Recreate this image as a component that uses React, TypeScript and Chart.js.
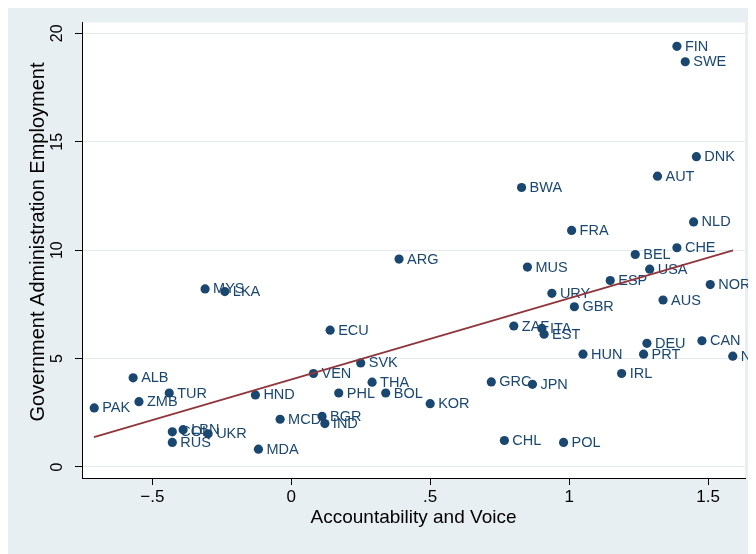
import React, { useEffect, useRef } from "react";
import { Chart, registerables } from "chart.js";

Chart.register(...registerables);

// ---- data ----
const codes = [
  "FIN", "SWE", "DNK", "AUT", "BWA", "NLD", "FRA", "CHE", "BEL", "ARG",
  "MUS", "USA", "ESP", "NOR", "MYS", "LKA", "URY", "AUS", "GBR", "ZAF",
  "ITA", "EST", "ECU", "DEU", "CAN", "HUN", "PRT", "NZL", "IRL", "GRC",
  "JPN", "CHL", "POL", "ALB", "TUR", "ZMB", "PAK", "HND", "MCD", "COL",
  "LBN", "UKR", "RUS", "MDA", "SVK", "VEN", "THA", "PHL", "BOL", "KOR",
  "BGR", "IND",
];
const voice = [
  1.388, 1.418, 1.458, 1.318, 0.829, 1.448, 1.009, 1.388, 1.238, 0.388,
  0.85, 1.29, 1.148, 1.508, -0.31, -0.239, 0.938, 1.338, 1.019, 0.801,
  0.902, 0.91, 0.14, 1.28, 1.478, 1.05, 1.268, 1.589, 1.189, 0.72,
  0.868, 0.767, 0.98, -0.569, -0.439, -0.548, -0.709, -0.129, -0.04, -0.428,
  -0.389, -0.299, -0.428, -0.118, 0.25, 0.08, 0.291, 0.171, 0.34, 0.5,
  0.111, 0.121,
];
const employment = [
  19.4, 18.69, 14.31, 13.41, 12.89, 11.3, 10.91, 10.11, 9.8, 9.59,
  9.22, 9.12, 8.6, 8.41, 8.21, 8.09, 8.01, 7.7, 7.39, 6.5,
  6.39, 6.12, 6.31, 5.7, 5.82, 5.2, 5.2, 5.11, 4.31, 3.92,
  3.81, 1.22, 1.13, 4.11, 3.41, 3.01, 2.72, 3.32, 2.2, 1.62,
  1.72, 1.53, 1.13, 0.82, 4.8, 4.31, 3.91, 3.41, 3.41, 2.92,
  2.33, 2.0,
];
const fitX = [-0.71, 1.59];
const fitY = [1.38, 9.99];
const xTicks = [-0.5, 0, 0.5, 1, 1.5];
const yTicks = [0, 5, 10, 15, 20];
const xTitle = "Accountability and Voice";
const yTitle = "Government Administration Employment";

const NAVY = "#1a476f";
const MAROON = "#90353b";
const BG = "#e8eff2";
const GRID = "#e2ebee";
const FONT = "'Liberation Sans', Arial, sans-serif";

function stataNum(v: number): string {
  const a = Math.abs(v);
  let s = String(a);
  if (s.startsWith("0.")) s = s.slice(1);
  return (v < 0 ? "\u2212" : "") + s;
}

export default function App() {
  const ref = useRef<HTMLCanvasElement | null>(null);

  useEffect(() => {
    const canvas = ref.current;
    if (!canvas) return;

    const bgPlugin = {
      id: "bgPlugin",
      beforeDraw(chart: any) {
        const { ctx, chartArea } = chart;
        ctx.save();
        ctx.fillStyle = BG;
        ctx.fillRect(0, 0, chart.width, chart.height);
        ctx.fillStyle = "#ffffff";
        ctx.fillRect(chartArea.left, chartArea.top, chartArea.right - chartArea.left, chartArea.bottom - chartArea.top);
        ctx.restore();
      },
      afterDraw(chart: any) {
        const { ctx } = chart;
        const ys = chart.scales.y;
        ctx.save();
        ctx.fillStyle = "#000";
        ctx.textAlign = "center";
        ctx.textBaseline = "middle";
        ctx.font = `16px ${FONT}`;
        for (const t of ys.ticks) {
          const py = ys.getPixelForValue(t.value);
          ctx.save();
          ctx.translate(50, py);
          ctx.rotate(-Math.PI / 2);
          ctx.fillText(stataNum(t.value), 0, 0);
          ctx.restore();
        }
        // y axis title
        ctx.font = `20px ${FONT}`;
        ctx.save();
        ctx.translate(30, 234);
        ctx.rotate(-Math.PI / 2);
        ctx.fillText(yTitle, 0, 0);
        ctx.restore();
        ctx.restore();
      },
    };

    const labelPlugin = {
      id: "labelPlugin",
      beforeDatasetsDraw(chart: any) {
        const { ctx } = chart;
        const meta = chart.getDatasetMeta(1);
        ctx.save();
        ctx.fillStyle = NAVY;
        ctx.font = `14.5px ${FONT}`;
        ctx.textAlign = "left";
        ctx.textBaseline = "middle";
        meta.data.forEach((pt: any, i: number) => {
          ctx.fillText(codes[i], pt.x + 8, pt.y + 0.5);
        });
        ctx.restore();
      },
    };

    const chart = new Chart(canvas, {
      type: "scatter",
      data: {
        datasets: [
          {
            type: "line",
            data: fitX.map((x, i) => ({ x, y: fitY[i] })),
            borderColor: MAROON,
            borderWidth: 1.8,
            pointRadius: 0,
            fill: false,
          } as any,
          {
            data: voice.map((x, i) => ({ x, y: employment[i] })),
            backgroundColor: NAVY,
            borderColor: NAVY,
            borderWidth: 0,
            pointRadius: 4.6,
          },
        ],
      },
      options: {
        responsive: false,
        animation: false,
        devicePixelRatio: 1,
        layout: { padding: { left: 0, right: 11, top: 14.5, bottom: 0 } },
        plugins: {
          legend: { display: false },
          tooltip: { enabled: false },
        },
        scales: {
          x: {
            type: "linear",
            min: -0.753,
            max: 1.633,
            afterBuildTicks(scale: any) {
              scale.ticks = xTicks.map((v) => ({ value: v }));
            },
            afterFit(scale: any) {
              scale.height = 76;
            },
            ticks: {
              autoSkip: false,
              maxRotation: 0,
              minRotation: 0,
              padding: 2,
              color: "#000",
              font: { family: FONT, size: 17 },
              callback: (v: any) => stataNum(Number(v)),
            },
            grid: {
              drawOnChartArea: false,
              drawTicks: true,
              tickLength: 7,
              tickColor: "#000",
            },
            border: { display: true, color: "#000", width: 1 },
            title: {
              display: true,
              text: xTitle,
              color: "#000",
              font: { family: FONT, size: 19 },
              padding: { top: 0, bottom: 25 },
            },
          },
          y: {
            type: "linear",
            min: -0.51,
            max: 20.5,
            afterBuildTicks(scale: any) {
              scale.ticks = yTicks.map((v) => ({ value: v }));
            },
            afterFit(scale: any) {
              scale.width = 74;
            },
            ticks: { display: false },
            grid: {
              drawOnChartArea: true,
              color: GRID,
              lineWidth: 1,
              drawTicks: true,
              tickLength: 7,
              tickColor: "#000",
            },
            border: { display: true, color: "#000", width: 1 },
            title: { display: false },
          },
        },
      },
      plugins: [bgPlugin, labelPlugin],
    });

    return () => chart.destroy();
  }, []);

  return (
    <canvas
      ref={ref}
      width={748}
      height={546}
      style={{ display: "block", width: 748, height: 546 }}
    />
  );
}
